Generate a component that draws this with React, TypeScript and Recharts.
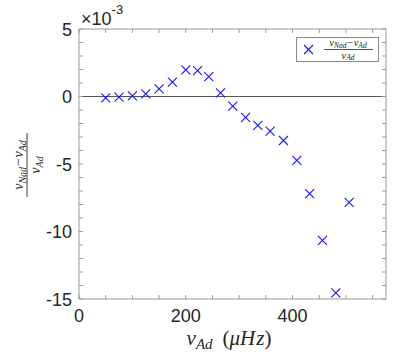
import { ScatterChart, Scatter, XAxis, YAxis, ReferenceLine, Legend } from 'recharts';

// adiabatic frequency (µHz)
const nuAd = [50, 75, 100, 125, 150, 175, 200, 222, 243, 265, 288, 312, 335, 358, 383, 408, 432, 456, 481, 506];
// (nu_Nad - nu_Ad) / nu_Ad, in units of 1e-3
const relDiff = [
  -0.1, -0.05, 0.05, 0.2, 0.57, 1.07, 1.97, 1.92, 1.47, 0.27, -0.72, -1.54, -2.14, -2.56, -3.26, -4.73, -7.2,
  -10.65, -14.55, -7.84,
];

const xTicks = [0, 50, 100, 150, 200, 250, 300, 350, 400, 450, 500, 550];
const xLabels = [0, 200, 400];
const yTicks = [-15, -14, -13, -12, -11, -10, -9, -8, -7, -6, -5, -4, -3, -2, -1, 0, 1, 2, 3, 4, 5];
const yLabels = [-15, -10, -5, 0, 5];

const data = nuAd.map((x, i) => ({ x, y: relDiff[i] }));

const AXIS = '#9a9a9a';
const TXT = '#262626';
const BLUE = '#1414ff';
const SERIF = '"Liberation Serif", "DejaVu Serif", serif';
const SANS = '"Liberation Sans", Arial, sans-serif';

const Cross = (props: any) => {
  const { cx, cy } = props;
  const s = 4.5;
  return (
    <path
      d={`M${cx - s},${cy - s}L${cx + s},${cy + s}M${cx - s},${cy + s}L${cx + s},${cy - s}`}
      stroke={BLUE}
      strokeWidth={1.1}
      fill="none"
    />
  );
};

const LeftTick = (props: any) => {
  const { x, y, payload } = props;
  const ax = x + 7;
  return (
    <g>
      <line x1={ax} x2={ax + 4} y1={y} y2={y} stroke={AXIS} />
      {yLabels.includes(payload.value) && (
        <text x={x} y={y + 6.5} textAnchor="end" fontSize={18} fill={TXT} fontFamily={SANS}>
          {payload.value}
        </text>
      )}
    </g>
  );
};

const RightTick = (props: any) => {
  const { x, y } = props;
  return <line x1={x} x2={x - 4} y1={y} y2={y} stroke={AXIS} />;
};

const BottomTick = (props: any) => {
  const { x, y, payload } = props;
  const ay = y - 10;
  return (
    <g>
      <line x1={x} x2={x} y1={ay} y2={ay - 4} stroke={AXIS} />
      {xLabels.includes(payload.value) && (
        <text x={x} y={ay + 23} textAnchor="middle" fontSize={18} fill={TXT} fontFamily={SANS}>
          {payload.value}
        </text>
      )}
    </g>
  );
};

const TopTick = (props: any) => {
  const { x, y } = props;
  return <line x1={x} x2={x} y1={y} y2={y + 4} stroke={AXIS} />;
};

const LegendBox = () => (
  <svg width={83} height={25} style={{ display: 'block' }}>
    <rect x={0.5} y={0.5} width={82} height={24} fill="#fff" stroke="#8c8c8c" />
    <path d="M8,8L17,17M8,17L17,8" stroke={BLUE} strokeWidth={1.1} />
    <text x={52} y={9} textAnchor="middle" fontFamily={SERIF} fontStyle="italic" fontSize={10.5} fill={TXT}>
      ν<tspan fontSize={7.5} dy={1.5}>Nad</tspan>
      <tspan dy={-1.5}>−ν</tspan>
      <tspan fontSize={7.5} dy={1.5}>Ad</tspan>
    </text>
    <line x1={28} x2={77} y1={12.5} y2={12.5} stroke={TXT} strokeWidth={0.8} />
    <text x={52} y={21.5} textAnchor="middle" fontFamily={SERIF} fontStyle="italic" fontSize={10.5} fill={TXT}>
      ν<tspan fontSize={7.5} dy={1.5}>Ad</tspan>
    </text>
  </svg>
);

export default function App() {
  return (
    <div style={{ position: 'absolute', left: 0, top: 0, width: 409, height: 364, background: '#fff' }}>
      <ScatterChart width={409} height={364} margin={{ top: 28, right: 22, bottom: 35, left: 0 }}>
        <XAxis
          xAxisId="b"
          dataKey="x"
          type="number"
          domain={[0, 575]}
          ticks={xTicks}
          interval={0}
          allowDataOverflow
          height={30}
          stroke={AXIS}
          tickLine={false}
          tickSize={0}
          tickMargin={10}
          tick={<BottomTick />}
        />
        <XAxis
          xAxisId="t"
          dataKey="x"
          orientation="top"
          type="number"
          domain={[0, 575]}
          ticks={xTicks}
          interval={0}
          allowDataOverflow
          height={1}
          stroke={AXIS}
          tickLine={false}
          tickSize={0}
          tickMargin={0}
          tick={<TopTick />}
        />
        <YAxis
          yAxisId="l"
          dataKey="y"
          type="number"
          domain={[-15, 5]}
          ticks={yTicks}
          interval={0}
          allowDataOverflow
          width={79}
          stroke={AXIS}
          tickLine={false}
          tickSize={0}
          tickMargin={7}
          tick={<LeftTick />}
        />
        <YAxis
          yAxisId="r"
          dataKey="y"
          orientation="right"
          type="number"
          domain={[-15, 5]}
          ticks={yTicks}
          interval={0}
          allowDataOverflow
          width={1}
          stroke={AXIS}
          tickLine={false}
          tickSize={0}
          tickMargin={0}
          tick={<RightTick />}
        />
        <ReferenceLine xAxisId="b" yAxisId="l" y={0} stroke="#555" strokeWidth={1} />
        <Legend
          layout="horizontal"
          verticalAlign="middle"
          align="center"
          content={<LegendBox />}
          wrapperStyle={{ position: 'absolute', left: 296, top: 37, width: 83, height: 25, bottom: 'auto' }}
        />
        <Scatter
          name="frame"
          data={data}
          xAxisId="t"
          yAxisId="r"
          shape={() => <g />}
          legendType="none"
          isAnimationActive={false}
        />
        <Scatter
          name="rel"
          data={data}
          xAxisId="b"
          yAxisId="l"
          shape={<Cross />}
          isAnimationActive={false}
        />
      </ScatterChart>
      <svg width={409} height={364} style={{ position: 'absolute', left: 0, top: 0, pointerEvents: 'none' }}>
        <text x={81} y={25} fontFamily={SANS} fontSize={18} fill={TXT}>
          ×10<tspan fontSize={13} dy={-11}>-3</tspan>
        </text>
        <text x={229} y={345} textAnchor="middle" fontFamily={SERIF} fontStyle="italic" fontSize={21} fill={TXT}>
          ν<tspan fontSize={15} dy={4}>Ad</tspan>
          <tspan dy={-4} dx={10} fontStyle="normal">(</tspan>
          <tspan>μH</tspan>
          <tspan dx={1}>z</tspan>
          <tspan fontStyle="normal">)</tspan>
        </text>
        <g transform="translate(27,165) rotate(-90)">
          <text x={0} y={-4} textAnchor="middle" fontFamily={SERIF} fontStyle="italic" fontSize={14} fill={TXT}>
            ν<tspan fontSize={10} dy={3}>Nad</tspan>
            <tspan dy={-3}>−ν</tspan>
            <tspan fontSize={10} dy={3}>Ad</tspan>
          </text>
          <line x1={-32} x2={32} y1={0} y2={0} stroke={TXT} strokeWidth={0.9} />
          <text x={0} y={13} textAnchor="middle" fontFamily={SERIF} fontStyle="italic" fontSize={14} fill={TXT}>
            ν<tspan fontSize={10} dy={3}>Ad</tspan>
          </text>
        </g>
      </svg>
    </div>
  );
}
